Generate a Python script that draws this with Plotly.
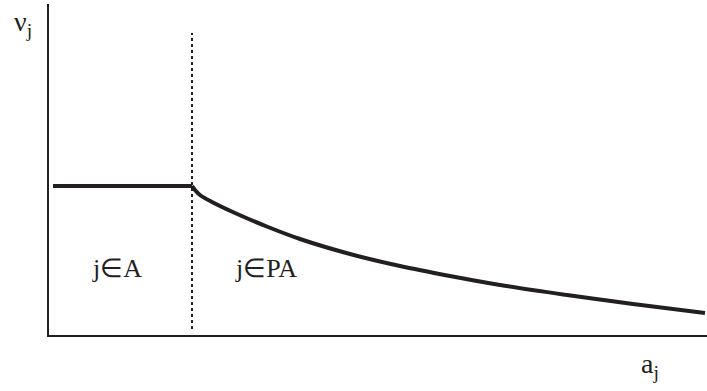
import plotly.graph_objects as go

# flat part (j in A) and decaying part (j in PA)
flat_x = [4, 143]
flat_y = [149, 149]
curve_x = [143, 146, 151, 163, 186, 219, 251, 301, 351, 401, 451, 518, 584, 656]
curve_y = [149, 145, 140, 133, 122, 108, 96, 81, 69, 59, 50, 40, 31, 22]
split_x = [143, 143]
split_y = [6, 302]

region_labels = ["j∈A", "j∈PA"]
region_x = [68, 217]
region_y = [67, 67]

INK = "#231f20"
FONT = "Liberation Serif, Times New Roman, serif"

fig = go.Figure()
fig.add_trace(go.Scatter(x=split_x, y=split_y, mode="lines",
                         line=dict(color=INK, width=2, dash="dot"),
                         hoverinfo="skip"))
fig.add_trace(go.Scatter(x=flat_x, y=flat_y, mode="lines",
                         line=dict(color=INK, width=4), hoverinfo="skip"))
fig.add_trace(go.Scatter(x=curve_x, y=curve_y, mode="lines",
                         line=dict(color=INK, width=4, shape="spline",
                                   smoothing=1),
                         hoverinfo="skip"))

for label, lx, ly in zip(region_labels, region_x, region_y):
    fig.add_annotation(x=lx, y=ly, text=label, showarrow=False,
                       font=dict(family=FONT, size=26, color=INK))

# axis names sit outside the plot area, so place them in paper units
fig.add_annotation(xref="paper", yref="paper", x=-0.056, y=1.0,
                   text="ν<sub>j</sub>", showarrow=False,
                   font=dict(family=FONT, size=28, color=INK))
fig.add_annotation(xref="paper", yref="paper", x=0.93, y=-0.15,
                   text="a<sub>j</sub>", showarrow=False,
                   font=dict(family=FONT, size=28, color=INK))

fig.update_layout(
    width=707,
    height=391,
    margin=dict(l=49, r=0, t=4, b=56),
    paper_bgcolor="white",
    plot_bgcolor="white",
    showlegend=False,
    xaxis=dict(range=[0, 658], showgrid=False, zeroline=False,
               showticklabels=False, ticks="", showline=True,
               linecolor=INK, linewidth=2),
    yaxis=dict(range=[0, 331], showgrid=False, zeroline=False,
               showticklabels=False, ticks="", showline=True,
               linecolor=INK, linewidth=2),
)

fig.write_html(
    "out.html",
    config={"displayModeBar": False},
    post_script="document.body.style.margin='0';document.body.style.overflow='hidden';",
)
